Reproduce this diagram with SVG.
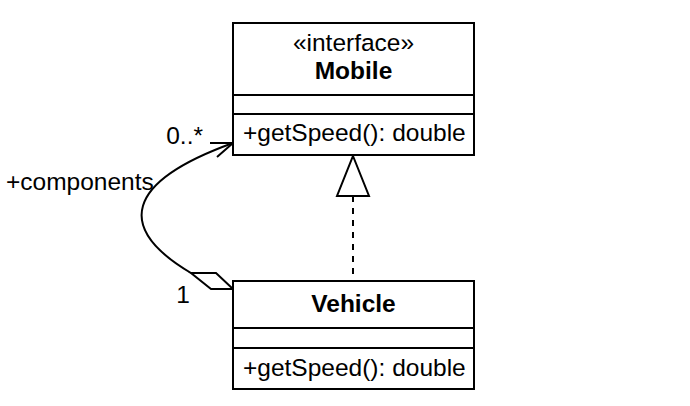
<svg xmlns="http://www.w3.org/2000/svg" width="690" height="406" viewBox="0 0 690 406">
<style>
.box{fill:#fff;stroke:#000;stroke-width:2}
.ln{stroke:#000;stroke-width:2;fill:none}
text{font-family:"Liberation Sans",Arial,sans-serif;font-size:24.5px;fill:#000}
.c{text-anchor:middle}
.b{font-weight:bold}
</style>
<rect width="690" height="406" fill="#fff"/>
<g id="connectors">
<path class="ln" d="M191,273 C115,228 125,182 233,143"/>
<path class="ln" d="M210,143 L233,143 L217,157"/>
<path d="M191,273 L216,273 L233,289 L211,289 Z" fill="#fff" stroke="#000" stroke-width="2"/>
<line class="ln" x1="353" y1="196" x2="353" y2="281" stroke-dasharray="6,6"/>
<path d="M353,156 L369,196 L337,196 Z" fill="#fff" stroke="#000" stroke-width="2"/>
<text x="203" y="144" text-anchor="end">0..*</text>
<text x="6" y="190">+components</text>
<text x="190" y="303" text-anchor="end">1</text>
</g>
<g id="Mobile">
<rect class="box" x="233" y="23" width="241" height="132"/>
<line class="ln" x1="233" y1="95" x2="474" y2="95"/>
<line class="ln" x1="233" y1="114" x2="474" y2="114"/>
<text class="c" x="353.5" y="51">«interface»</text>
<text class="c b" x="353.5" y="79">Mobile</text>
<text x="243" y="141">+getSpeed(): double</text>
</g>
<g id="Vehicle">
<rect class="box" x="233" y="281" width="241" height="108"/>
<line class="ln" x1="233" y1="328" x2="474" y2="328"/>
<line class="ln" x1="233" y1="348" x2="474" y2="348"/>
<text class="c b" x="353.5" y="312">Vehicle</text>
<text x="243" y="376">+getSpeed(): double</text>
</g>
</svg>
